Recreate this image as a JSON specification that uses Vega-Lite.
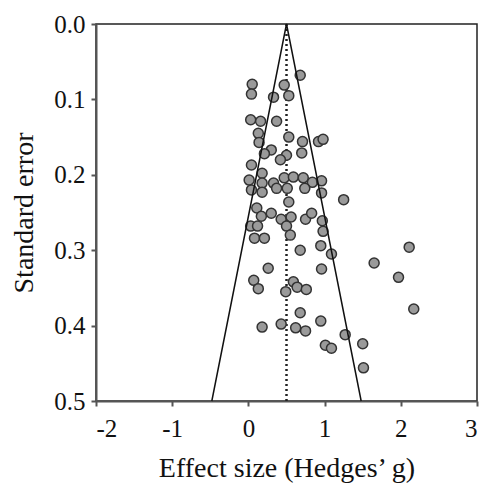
{
  "$schema": "https://vega.github.io/schema/vega-lite/v6.json",
  "width": 381,
  "height": 377,
  "autosize": "none",
  "padding": {"left": 96, "top": 24, "right": 6, "bottom": 85},
  "background": "white",
  "config": {
    "view": {"stroke": "#222", "strokeWidth": 1.5},
    "font": "Liberation Serif",
    "axis": {
      "labelFont": "Liberation Serif",
      "titleFont": "Liberation Serif",
      "labelFontSize": 25,
      "titleFontSize": 28,
      "titleFontWeight": "normal",
      "grid": false,
      "domainColor": "#555",
      "domainWidth": 2,
      "tickColor": "#555",
      "tickWidth": 2,
      "tickSize": 5,
      "labelColor": "#111",
      "titleColor": "#111"
    }
  },
  "datasets": {
    "studies": [
      {"g": 0.68, "se": 0.068}, {"g": 0.05, "se": 0.080}, {"g": 0.04, "se": 0.093},
      {"g": 0.47, "se": 0.081}, {"g": 0.33, "se": 0.097}, {"g": 0.53, "se": 0.095},
      {"g": 0.03, "se": 0.127}, {"g": 0.16, "se": 0.129}, {"g": 0.37, "se": 0.129},
      {"g": 0.13, "se": 0.145}, {"g": 0.53, "se": 0.150}, {"g": 0.14, "se": 0.157},
      {"g": 0.71, "se": 0.156}, {"g": 0.92, "se": 0.156}, {"g": 0.98, "se": 0.153},
      {"g": 0.30, "se": 0.167}, {"g": 0.21, "se": 0.172}, {"g": 0.50, "se": 0.174},
      {"g": 0.70, "se": 0.171}, {"g": 0.42, "se": 0.180}, {"g": 0.04, "se": 0.187},
      {"g": 0.18, "se": 0.198}, {"g": 0.01, "se": 0.207}, {"g": 0.18, "se": 0.211},
      {"g": 0.33, "se": 0.211}, {"g": 0.47, "se": 0.204}, {"g": 0.59, "se": 0.203},
      {"g": 0.72, "se": 0.204}, {"g": 0.84, "se": 0.210}, {"g": 0.96, "se": 0.208},
      {"g": 0.04, "se": 0.220}, {"g": 0.18, "se": 0.223}, {"g": 0.37, "se": 0.218},
      {"g": 0.51, "se": 0.218}, {"g": 0.74, "se": 0.218}, {"g": 0.96, "se": 0.224},
      {"g": 0.53, "se": 0.236}, {"g": 1.25, "se": 0.233}, {"g": 0.11, "se": 0.244},
      {"g": 0.17, "se": 0.255}, {"g": 0.30, "se": 0.251}, {"g": 0.43, "se": 0.259},
      {"g": 0.56, "se": 0.256}, {"g": 0.75, "se": 0.259}, {"g": 0.83, "se": 0.251},
      {"g": 0.97, "se": 0.261}, {"g": 0.03, "se": 0.268}, {"g": 0.12, "se": 0.268},
      {"g": 0.50, "se": 0.268}, {"g": 0.55, "se": 0.280}, {"g": 0.98, "se": 0.275},
      {"g": 0.08, "se": 0.284}, {"g": 0.21, "se": 0.284}, {"g": 0.68, "se": 0.300},
      {"g": 0.95, "se": 0.294}, {"g": 1.09, "se": 0.305}, {"g": 2.11, "se": 0.296},
      {"g": 0.26, "se": 0.324}, {"g": 0.96, "se": 0.325}, {"g": 1.65, "se": 0.317},
      {"g": 1.97, "se": 0.336}, {"g": 2.17, "se": 0.378}, {"g": 0.07, "se": 0.340},
      {"g": 0.13, "se": 0.351}, {"g": 0.49, "se": 0.355}, {"g": 0.59, "se": 0.342},
      {"g": 0.64, "se": 0.349}, {"g": 0.76, "se": 0.352}, {"g": 0.68, "se": 0.383},
      {"g": 0.95, "se": 0.394}, {"g": 0.18, "se": 0.402}, {"g": 0.43, "se": 0.398},
      {"g": 0.62, "se": 0.403}, {"g": 0.75, "se": 0.407}, {"g": 1.27, "se": 0.412},
      {"g": 1.01, "se": 0.426}, {"g": 1.09, "se": 0.430}, {"g": 1.50, "se": 0.424},
      {"g": 1.51, "se": 0.456}
    ],
    "funnel": [
      {"g": -0.48, "se": 0.5, "o": 1},
      {"g": 0.5, "se": 0.0, "o": 2},
      {"g": 1.48, "se": 0.5, "o": 3}
    ],
    "mean": [
      {"g": 0.5, "se": 0.0},
      {"g": 0.5, "se": 0.5}
    ]
  },
  "layer": [
    {
      "data": {"name": "mean"},
      "mark": {"type": "line", "color": "#222", "strokeWidth": 2.5, "strokeDash": [2, 3]},
      "encoding": {
        "x": {"field": "g", "type": "quantitative", "scale": {"domain": [-2, 3], "nice": false, "zero": false},
              "axis": {"values": [-2, -1, 0, 1, 2, 3], "labelExpr": "'' + datum.value", "title": "Effect size (Hedges’ g)", "labelPadding": 10, "titlePadding": 13}},
        "y": {"field": "se", "type": "quantitative", "scale": {"domain": [0, 0.5], "reverse": true, "nice": false},
              "axis": {"values": [0, 0.1, 0.2, 0.3, 0.4, 0.5], "format": ".1f", "title": "Standard error", "labelPadding": 6, "titlePadding": 15}}
      }
    },
    {
      "data": {"name": "studies"},
      "mark": {"type": "circle", "size": 100, "fill": "#9a9a9a", "stroke": "#333", "strokeWidth": 1.5, "opacity": 1},
      "encoding": {
        "x": {"field": "g", "type": "quantitative"},
        "y": {"field": "se", "type": "quantitative"}
      }
    },
    {
      "data": {"name": "funnel"},
      "mark": {"type": "line", "color": "#111", "strokeWidth": 1.5},
      "encoding": {
        "x": {"field": "g", "type": "quantitative"},
        "y": {"field": "se", "type": "quantitative"},
        "order": {"field": "o", "type": "quantitative"}
      }
    }
  ]
}
